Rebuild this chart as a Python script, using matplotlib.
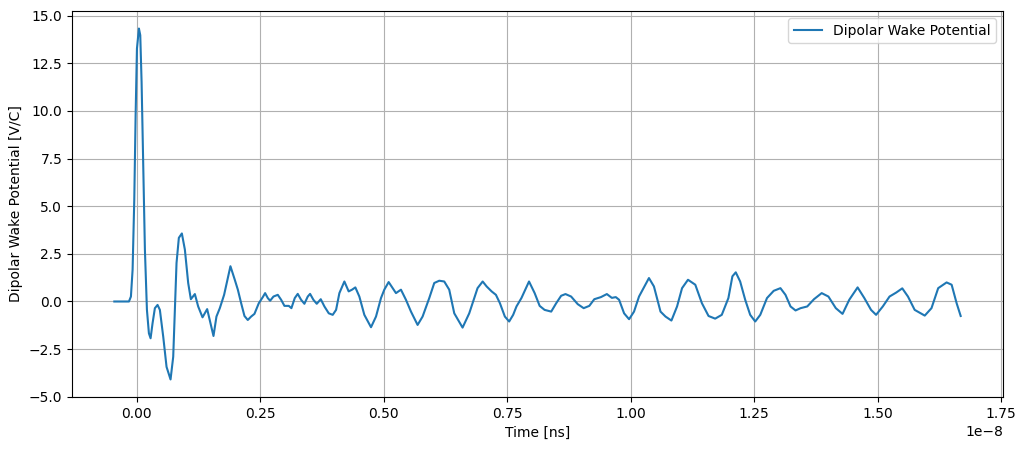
import matplotlib
matplotlib.use("Agg")
import matplotlib.pyplot as plt
import numpy as np

# Time values in units of 1e-8 s, scaled to seconds below
time_1e8 = [
    # initial spike region
    -0.0451, -0.0155, -0.0115, -0.0081, -0.0047, -0.0020, 0.0007, 0.0047, 0.0074, 0.0101,
    0.0135, 0.0168, 0.0209, 0.0249, 0.0283, 0.0323, 0.0370, 0.0424, 0.0471, 0.0539,
    0.0606, 0.0687, 0.0741, 0.0775, 0.0808, 0.0855, 0.0916, 0.0977, 0.1044, 0.1098,
    0.1179, 0.1246, 0.1334, 0.1428, 0.1495, 0.1556, 0.1616, 0.1684, 0.1771, 0.1899,
    0.1987,
    # 0.2 - 0.7
    0.2049, 0.2116, 0.2183, 0.2250, 0.2318, 0.2385, 0.2473, 0.2554, 0.2601, 0.2655,
    0.2702, 0.2770, 0.2857, 0.2925, 0.2992, 0.3080, 0.3133, 0.3201, 0.3261, 0.3329,
    0.3396, 0.3464, 0.3511, 0.3578, 0.3646, 0.3727, 0.3801, 0.3889, 0.3969, 0.4037,
    0.4104, 0.4205, 0.4292, 0.4360, 0.4427, 0.4508, 0.4609, 0.4744, 0.4845, 0.4946,
    0.5013, 0.5101, 0.5182, 0.5249, 0.5350, 0.5451, 0.5553, 0.5687, 0.5788, 0.5923,
    0.6024, 0.6125, 0.6226, 0.6327, 0.6429, 0.6597, 0.6732, 0.6900,
    # 0.7 - 1.2
    0.7004, 0.7084, 0.7185, 0.7272, 0.7353, 0.7453, 0.7540, 0.7621, 0.7688, 0.7788,
    0.7942, 0.8056, 0.8157, 0.8257, 0.8391, 0.8492, 0.8592, 0.8680, 0.8794, 0.8928,
    0.9048, 0.9162, 0.9263, 0.9397, 0.9517, 0.9618, 0.9698, 0.9765, 0.9866, 0.9967,
    1.0067, 1.0168, 1.0369, 1.0470, 1.0603, 1.0704, 1.0824, 1.0938, 1.1039, 1.1159,
    1.1307, 1.1441, 1.1575, 1.1709, 1.1843, 1.1977,
    # 1.2 - end
    1.2058, 1.2126, 1.2215, 1.2317, 1.2418, 1.2520, 1.2622, 1.2758, 1.2894, 1.3030,
    1.3132, 1.3234, 1.3336, 1.3438, 1.3573, 1.3709, 1.3865, 1.4001, 1.4151, 1.4287,
    1.4423, 1.4592, 1.4728, 1.4864, 1.4966, 1.5102, 1.5238, 1.5374, 1.5496, 1.5611,
    1.5747, 1.5951, 1.6087, 1.6223, 1.6393, 1.6495, 1.6596, 1.6678,
]

wake_potential = [
    # initial spike region
    0.0, 0.0, 0.26, 1.67, 5.36, 9.75, 13.27, 14.32, 13.97, 11.51,
    7.12, 2.72, -0.44, -1.67, -1.93, -1.14, -0.35, -0.18, -0.44, -1.85,
    -3.43, -4.09, -2.90, -0.44, 2.02, 3.34, 3.57, 2.72, 0.97, 0.12,
    0.39, -0.26, -0.83, -0.40, -1.14, -1.81, -0.79, -0.35, 0.35, 1.85,
    1.14,
    # 0.2 - 0.7
    0.62, -0.09, -0.76, -0.97, -0.79, -0.65, -0.09, 0.23, 0.44, 0.18,
    0.04, 0.26, 0.35, 0.09, -0.23, -0.23, -0.35, 0.18, 0.40, 0.09,
    -0.12, 0.26, 0.40, 0.09, -0.12, 0.12, -0.26, -0.62, -0.70, -0.44,
    0.44, 1.05, 0.53, 0.62, 0.74, 0.26, -0.70, -1.35, -0.79, 0.18,
    0.62, 1.02, 0.70, 0.44, 0.62, 0.09, -0.53, -1.23, -0.79, 0.18,
    0.97, 1.09, 1.05, 0.62, -0.62, -1.37, -0.62, 0.70,
    # 0.7 - 1.2
    1.05, 0.79, 0.53, 0.35, -0.09, -0.79, -1.05, -0.70, -0.26, 0.18,
    1.05, 0.44, -0.23, -0.44, -0.53, -0.09, 0.30, 0.39, 0.26, -0.14,
    -0.35, -0.23, 0.12, 0.23, 0.39, 0.19, 0.23, 0.09, -0.62, -0.93,
    -0.53, 0.26, 1.23, 0.79, -0.53, -0.79, -1.00, -0.26, 0.70, 1.14,
    0.88, -0.09, -0.76, -0.90, -0.70, 0.18,
    # 1.2 - end
    1.32, 1.53, 1.05, 0.09, -0.70, -1.05, -0.70, 0.18, 0.56, 0.70,
    0.35, -0.26, -0.47, -0.35, -0.26, 0.12, 0.44, 0.26, -0.35, -0.65,
    0.09, 0.74, 0.18, -0.44, -0.70, -0.26, 0.26, 0.47, 0.69, 0.26,
    -0.44, -0.74, -0.35, 0.70, 1.00, 0.88, -0.09, -0.76,
]

time_s = np.array(time_1e8) * 1e-8

fig = plt.figure(figsize=(10.27, 4.49), dpi=100)
ax = fig.add_axes([72 / 1027, (449 - 397) / 449, 931 / 1027, 386 / 449])
ax.plot(time_s, wake_potential, color="#1f77b4", linewidth=1.5,
        label="Dipolar Wake Potential")
ax.set_xlabel("Time [ns]")
ax.set_ylabel("Dipolar Wake Potential [V/C]")
ax.grid(True)
ax.legend(loc="upper right")
fig.savefig("out.png", dpi=100)
